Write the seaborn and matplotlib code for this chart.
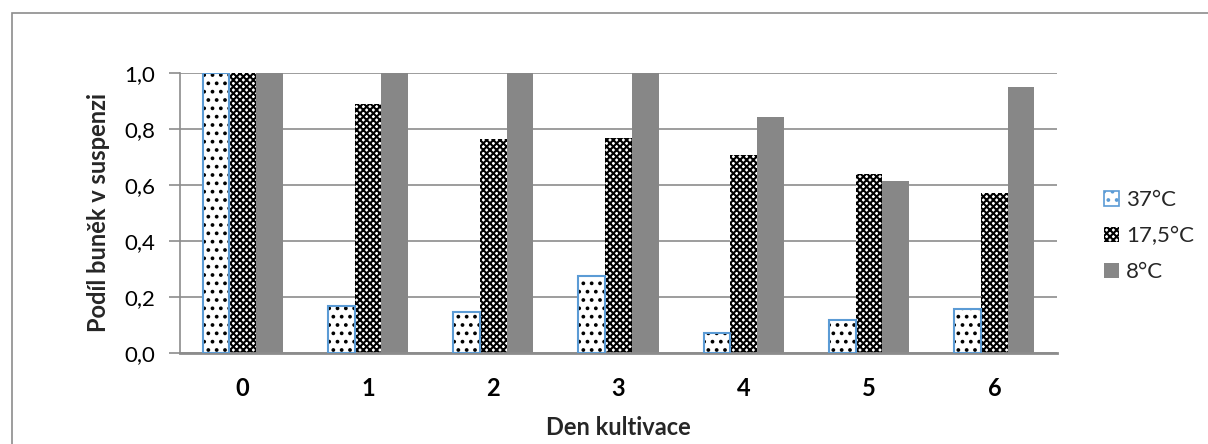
import matplotlib
matplotlib.use("Agg")
import matplotlib.pyplot as plt
import matplotlib.patches as mpatches
import seaborn as sns
import pandas as pd

days = ["0", "1", "2", "3", "4", "5", "6"]
series_names = ["37°C", "17,5°C", "8°C"]
v37 = [1.0, 0.168, 0.146, 0.275, 0.071, 0.118, 0.157]
v175 = [1.0, 0.889, 0.764, 0.768, 0.707, 0.639, 0.571]
v8 = [1.0, 1.0, 1.0, 1.0, 0.843, 0.614, 0.950]
y_ticks = [0.0, 0.2, 0.4, 0.6, 0.8, 1.0]
y_tick_labels = ["0,0", "0,2", "0,4", "0,6", "0,8", "1,0"]

df = pd.DataFrame({
    "den": days * 3,
    "serie": sum([[s] * len(days) for s in series_names], []),
    "podil": v37 + v175 + v8,
})

sns.set_theme(style="white")
plt.rcParams["font.family"] = ["Lato", "DejaVu Sans"]
plt.rcParams["hatch.linewidth"] = 1.5

fig = plt.figure(figsize=(12.08, 4.44), dpi=100)
ax = fig.add_axes([0.149, 0.205, 0.726, 0.631])

sns.barplot(data=df, x="den", y="podil", hue="serie", hue_order=series_names,
            order=days, width=0.64, palette=["white", "white", "#878787"],
            saturation=1, ax=ax, legend=False)

blue = "#5B9BD5"
c37, c175, c8 = ax.containers
for bar in c37:
    bar.set_facecolor("white")
    bar.set_edgecolor("black")
    bar.set_linewidth(0)
    bar.set_hatch("..")
    ax.add_patch(mpatches.Rectangle(bar.get_xy(), bar.get_width(), bar.get_height(),
                                    fill=False, edgecolor=blue, linewidth=1.5, zorder=3))
for bar in c175:
    bar.set_facecolor("white")
    bar.set_edgecolor("black")
    bar.set_linewidth(0)
    bar.set_hatch("xxxxx")
for bar in c8:
    bar.set_facecolor("#878787")
    bar.set_edgecolor("none")
    bar.set_linewidth(0)

ax.set_ylim(0, 1.0)
ax.set_xlim(-0.5, len(days) - 0.5)
ax.set_yticks(y_ticks)
ax.set_yticklabels(y_tick_labels, fontsize=16)
ax.set_xticks(range(len(days)))
ax.set_xticklabels(days, fontsize=17, fontweight="bold")
ax.yaxis.grid(True, color="#8c8c8c", linewidth=1.2)
ax.set_axisbelow(True)
for s in ["top", "right"]:
    ax.spines[s].set_visible(False)
ax.spines["left"].set_color("#8c8c8c")
ax.spines["left"].set_linewidth(1.2)
ax.spines["bottom"].set_color("#8c8c8c")
ax.spines["bottom"].set_linewidth(2)
ax.tick_params(axis="y", which="major", left=True, length=8, width=1.2,
               color="#8c8c8c", pad=10, labelcolor="black")
ax.tick_params(axis="x", bottom=False, pad=11, labelcolor="black")

ax.set_xlabel("Den kultivace", fontsize=17, fontweight="bold", labelpad=12)
ax.set_ylabel("Podíl buněk v suspenzi", fontsize=17, fontweight="bold", labelpad=10)

handles = [
    mpatches.Patch(facecolor="white", edgecolor=blue, hatch="..", linewidth=1.2),
    mpatches.Patch(facecolor="white", edgecolor="black", hatch="xxxxx", linewidth=0),
    mpatches.Patch(facecolor="#878787", edgecolor="none"),
]
leg = fig.legend(handles, series_names, loc="center left", bbox_to_anchor=(0.897, 0.468),
                 frameon=False, fontsize=16, handlelength=0.7, handleheight=0.7,
                 handletextpad=0.3, labelspacing=0.72)

fig.patches.append(mpatches.Rectangle((0.010, -0.1), 1.1, 1.071, transform=fig.transFigure,
                                      fill=False, edgecolor="#8c8c8c", linewidth=1.2))

fig.savefig("out.png", dpi=100)
